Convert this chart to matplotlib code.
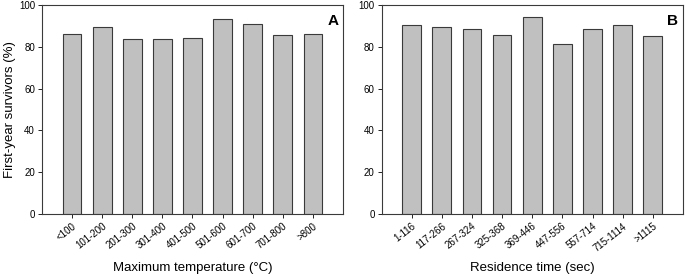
import matplotlib
matplotlib.use("Agg")
import matplotlib.pyplot as plt

plt.rcParams['font.family'] = ['Liberation Sans', 'DejaVu Sans']

temp_labels = ["<100", "101-200", "201-300", "301-400", "401-500", "501-600", "601-700", "701-800", ">800"]
temp_values = [86.0, 89.7, 83.5, 83.5, 84.4, 93.5, 91.1, 85.5, 86.0]

res_labels = ["1-116", "117-266", "267-324", "325-368", "369-446", "447-556", "557-714", "715-1114", ">1115"]
res_values = [90.6, 89.6, 88.7, 85.6, 94.1, 81.5, 88.5, 90.6, 85.3]

fig = plt.figure(figsize=(6.85, 2.77), dpi=100)
axA = fig.add_axes([0.0613, 0.2274, 0.4394, 0.7546])
axB = fig.add_axes([0.557, 0.2274, 0.440, 0.7546])

def panel(ax, labels, values, xlabel, letter):
    x = list(range(1, len(values) + 1))
    ax.bar(x, values, width=0.62, color="#c0c0c0", edgecolor="#3a3a3a", linewidth=0.8)
    ax.set_xlim(0, len(values) + 1)
    ax.set_ylim(0, 100)
    ax.set_yticks([0, 20, 40, 60, 80, 100])
    ax.set_xticks(x)
    ax.set_xticklabels(labels, rotation=38, ha="right", rotation_mode="anchor", fontsize=7)
    ax.tick_params(axis='y', labelsize=7, length=3, width=0.6, pad=2)
    ax.tick_params(axis='x', length=3, width=0.6, pad=2)
    for s in ax.spines.values():
        s.set_linewidth(0.8)
        s.set_color("#3a3a3a")
    ax.set_xlabel(xlabel, fontsize=9.5)
    ax.xaxis.set_label_coords(0.5, -0.258)
    ax.xaxis.label.set_va("center")
    ax.text(0.985, 0.955, letter, transform=ax.transAxes, ha="right", va="top",
            fontsize=11, fontweight="bold")

panel(axA, temp_labels, temp_values, "Maximum temperature (°C)", "A")
panel(axB, res_labels, res_values, "Residence time (sec)", "B")
axA.set_ylabel("First-year survivors (%)", fontsize=9.5)
axA.yaxis.set_label_coords(-0.106, 0.5)
axA.yaxis.label.set_va("center")

fig.savefig("out.png", dpi=100)
